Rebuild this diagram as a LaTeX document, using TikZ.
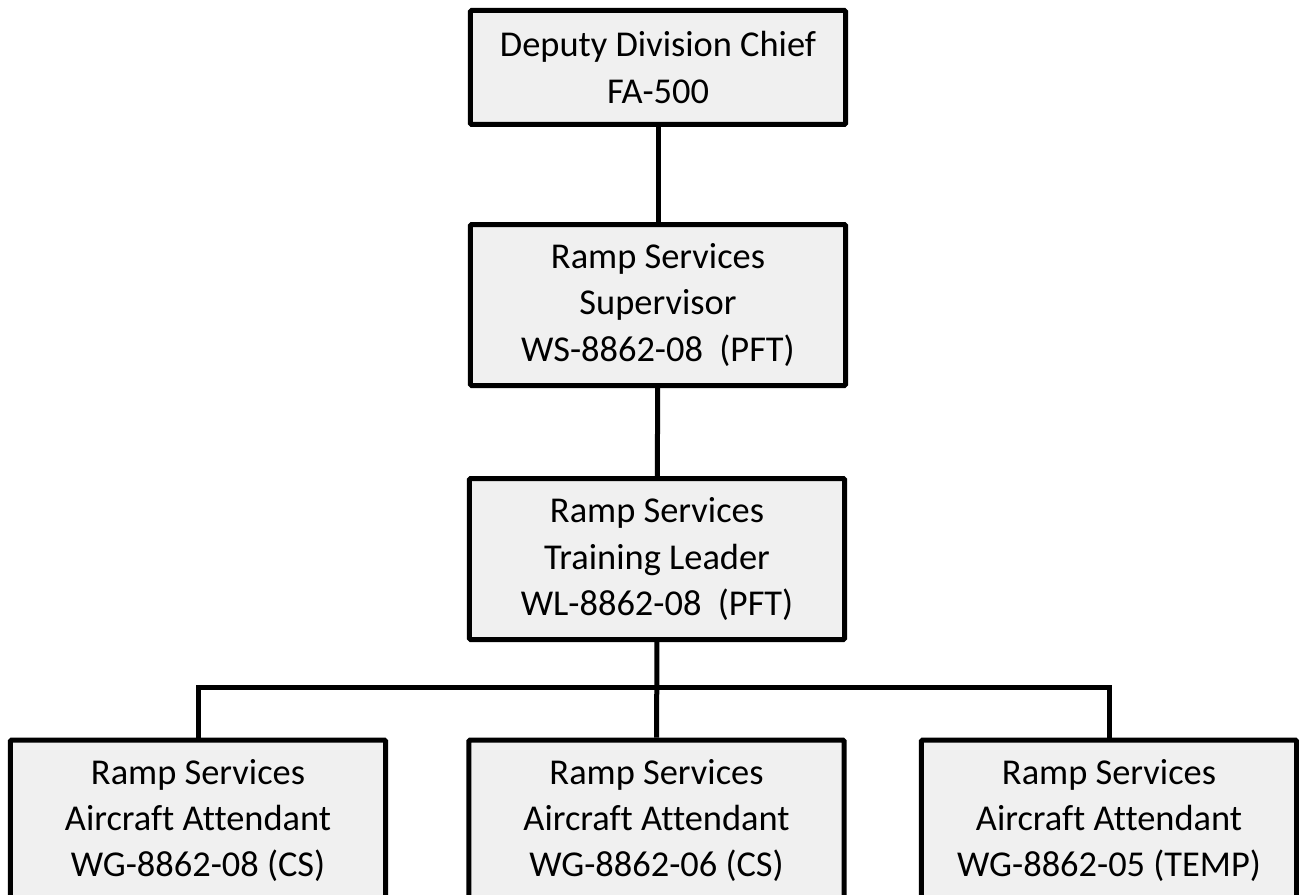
\documentclass[tikz,border=0pt]{standalone}
\usepackage{fontspec}
\setmainfont[Ligatures=NoCommon]{Carlito}
\usepackage{tikz}

\tikzset{
  post/.style={draw=black, line width=3.75pt, fill={rgb,255:red,240;green,240;blue,240},
    rounded corners=1pt, minimum width=281.5pt, minimum height=120.75pt,
    align=center, inner sep=0pt,
    font=\fontsize{27.3}{34.8}\selectfont},
  link/.style={line width=3.75pt}
}

\begin{document}
\begin{tikzpicture}[x=0.75pt,y=0.75pt,yscale=-1,xscale=1]
			\useasboundingbox (0,0) rectangle (1299,895);
			\clip (0,0) rectangle (1299,895);
			
			%Shape: Box [id:chief] 
			\node [post, minimum height=85.5pt] (chief) at (658,67.5) {Deputy Division Chief\\FA-500};
			%Shape: Box [id:super] 
			\node [post] (super) at (658,305) {Ramp Services\\Supervisor\\WS-8862-08~ (PFT)};
			%Shape: Box [id:leader] 
			\node [post] (leader) at (657,559) {Ramp Services\\Training Leader\\WL-8862-08~ (PFT)};
			%Shape: Box [id:attA] 
			\node [post] (attA) at (198,820.5) {Ramp Services\\Aircraft Attendant\\WG-8862-08 (CS)};
			%Shape: Box [id:attB] 
			\node [post] (attB) at (656.5,820.5) {Ramp Services\\Aircraft Attendant\\WG-8862-06 (CS)};
			%Shape: Box [id:attC] 
			\node [post] (attC) at (1109,820.5) {Ramp Services\\Aircraft Attendant\\WG-8862-05 (TEMP)};
			
			%Straight Lines [id:bus] 
			\coordinate (bus) at (657,687);
			\draw [link] (chief) -- (super);
			\draw [link] (super) -- (leader);
			\draw [link] (leader) -- (attB);
			\draw [link] (attA.north) |- (bus) -| (attC.north);
		\end{tikzpicture}
\end{document}
